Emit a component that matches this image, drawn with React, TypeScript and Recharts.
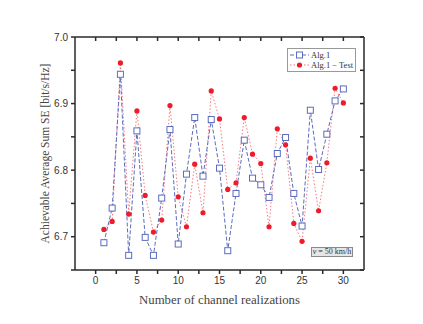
import React from 'react';
import { LineChart, Line, XAxis, YAxis } from 'recharts';

// channel realization index
const realizations = [1, 2, 3, 4, 5, 6, 7, 8, 9, 10, 11, 12, 13, 14, 15, 16, 17, 18, 19, 20, 21, 22, 23, 24, 25, 26, 27, 28, 29, 30];

// sum SE [bit/s/Hz]
const alg1 = [
  6.691, 6.743, 6.944, 6.672, 6.859, 6.699, 6.672, 6.758, 6.861, 6.689,
  6.794, 6.879, 6.791, 6.876, 6.803, 6.679, 6.765, 6.845, 6.788, 6.778,
  6.759, 6.825, 6.849, 6.765, 6.716, 6.890, 6.801, 6.854, 6.904, 6.922,
];
const alg1Test = [
  6.711, 6.723, 6.961, 6.734, 6.889, 6.762, 6.707, 6.725, 6.897, 6.760,
  6.715, 6.809, 6.736, 6.919, 6.877, 6.771, 6.781, 6.879, 6.824, 6.810,
  6.715, 6.862, 6.838, 6.720, 6.693, 6.818, 6.739, 6.811, 6.923, 6.901,
];

const xTicks = [0, 2.5, 5, 7.5, 10, 12.5, 15, 17.5, 20, 22.5, 25, 27.5, 30];
const yTicks = [6.65, 6.7, 6.75, 6.8, 6.85, 6.9, 6.95, 7.0];
const xLabeled = [0, 5, 10, 15, 20, 25, 30];
const yLabeled = [6.7, 6.8, 6.9, 7.0];

const BLUE = '#5b6cbf';
const RED = '#ee1c2a';
const AXIS = '#2a2a2a';
const SERIF = '"Liberation Serif", "DejaVu Serif", serif';
const SANS = '"Liberation Sans", Arial, sans-serif';

const data = realizations.map((n, i) => ({ n, alg1: alg1[i], test: alg1Test[i] }));

const SquareDot = (props: any) => {
  const { cx, cy } = props;
  if (cx == null || cy == null) return null;
  return <rect x={cx - 3} y={cy - 3} width={6} height={6} fill="#fff" stroke={BLUE} strokeWidth={1} />;
};

const RoundDot = (props: any) => {
  const { cx, cy } = props;
  if (cx == null || cy == null) return null;
  return <circle cx={cx} cy={cy} r={2.6} fill={RED} stroke="none" />;
};

const LegendBox = () => (
  <div style={{
    position: 'absolute', left: 287, top: 48,
    border: '1px solid #999', background: '#fff', padding: '1px 2px',
    fontFamily: SERIF, fontSize: 8.5, color: '#333', lineHeight: '10px',
  }}>
    <div style={{ display: 'flex', alignItems: 'center' }}>
      <svg width={19} height={10}>
        <line x1={0} y1={5} x2={19} y2={5} stroke={BLUE} strokeDasharray="4 2" />
        <rect x={6.5} y={2} width={6} height={6} fill="#fff" stroke={BLUE} />
      </svg>
      <span style={{ marginLeft: 2 }}>Alg.1</span>
    </div>
    <div style={{ display: 'flex', alignItems: 'center' }}>
      <svg width={19} height={10}>
        <line x1={0} y1={5} x2={19} y2={5} stroke={RED} strokeOpacity={0.6} strokeDasharray="1.5 2" />
        <circle cx={9.5} cy={5} r={2.6} fill={RED} />
      </svg>
      <span style={{ marginLeft: 2 }}>Alg.1 − Test</span>
    </div>
  </div>
);

const YTitle = (props: any) => {
  const { viewBox } = props;
  const cx = 45;
  const cy = viewBox.y + viewBox.height / 2;
  return (
    <text x={cx} y={cy} transform={`rotate(-90, ${cx}, ${cy})`} textAnchor="middle"
      dominantBaseline="central" fontFamily={SERIF} fontSize={11.5} fill="#444">
      Achievable Average Sum SE [bit/s/Hz]
    </text>
  );
};

const XTitle = (props: any) => {
  const { viewBox } = props;
  const cx = viewBox.x + viewBox.width / 2;
  return (
    <text x={cx} y={300} textAnchor="middle" dominantBaseline="central"
      fontFamily={SERIF} fontSize={12.8} fill="#444">
      Number of channel realizations
    </text>
  );
};

export default function App() {
  return (
    <div style={{ position: 'absolute', left: 0, top: 0, width: 423, height: 324, background: '#fff' }}>
      <LineChart width={423} height={324} data={data}
        margin={{ top: 36, right: 58, left: 74, bottom: 53 }}>
        <XAxis xAxisId="bottom" dataKey="n" type="number" domain={[-2.5, 32.5]} ticks={xTicks} height={1}
          stroke={AXIS} strokeWidth={1.5} tickSize={4} tickMargin={3}
          tick={{ fontFamily: SANS, fontSize: 10, fill: '#333', stroke: 'none' }}
          tickFormatter={(v: number) => (xLabeled.includes(v) ? String(v) : '')}
          label={XTitle} />
        <XAxis xAxisId="top" dataKey="n" orientation="top" type="number" domain={[-2.5, 32.5]} ticks={xTicks}
          height={1} stroke={AXIS} strokeWidth={1.5} tickSize={-4} tickFormatter={() => ''} />
        <YAxis yAxisId="left" type="number" domain={[6.65, 7.0]} ticks={yTicks} width={1}
          stroke={AXIS} strokeWidth={1.5} tickSize={4} tickMargin={3}
          tick={{ fontFamily: SANS, fontSize: 10, fill: '#333', stroke: 'none' }}
          tickFormatter={(v: number) => (yLabeled.some((t) => Math.abs(t - v) < 1e-6) ? v.toFixed(1) : '')}
          label={YTitle} />
        <YAxis yAxisId="right" orientation="right" type="number" domain={[6.65, 7.0]} ticks={yTicks}
          width={1} stroke={AXIS} strokeWidth={1.5} tickSize={-4} tickFormatter={() => ''} />
        <Line xAxisId="top" yAxisId="right" dataKey="test" type="linear" stroke={RED} strokeOpacity={0.6}
          strokeWidth={1} strokeDasharray="1.5 2" dot={RoundDot} isAnimationActive={false} />
        <Line xAxisId="bottom" yAxisId="left" dataKey="alg1" type="linear" stroke={BLUE} strokeWidth={1}
          strokeDasharray="4 2" dot={SquareDot} isAnimationActive={false} />
      </LineChart>
      <LegendBox />
      <div style={{
        position: 'absolute', left: 311, top: 247, width: 42, height: 10, boxSizing: 'border-box',
        border: '1px solid #888', background: '#e6e6e6', fontFamily: SERIF, fontSize: 8,
        color: '#333', textAlign: 'center', lineHeight: '8px',
      }}>
        <i>v</i> = 50 km/h
      </div>
    </div>
  );
}
